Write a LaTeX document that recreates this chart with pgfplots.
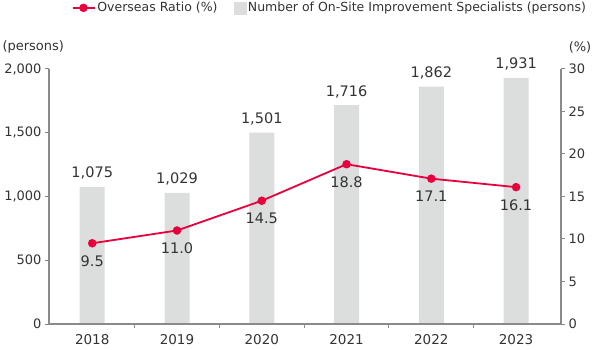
\documentclass[border=0pt]{standalone}
\usepackage{pgfplots}
\pgfplotsset{compat=1.18}
\usepackage{fontspec}
\setmainfont{DejaVu Sans}
\definecolor{barg}{HTML}{DCDDDD}
\definecolor{lred}{HTML}{E8003C}
\definecolor{axg}{HTML}{8A8A8A}
\definecolor{txt}{HTML}{333333}
\pgfplotsset{
  /pgf/number format/assume math mode=true,
  common/.style={
    at={(0,0)}, anchor=south west, scale only axis,
    width=512bp, height=255bp,
    xmin=-0.51, xmax=5.53, clip=false,
    axis line style={axg, line width=1.4bp},
    tick style={axg, line width=1bp},
    tick align=outside, major tick length=4bp,
    ticklabel style={text=txt, font=\fontsize{13bp}{15bp}\selectfont},
  },
}
\begin{document}
\begin{tikzpicture}[font=\fontsize{12bp}{14bp}\selectfont]
\useasboundingbox (-49bp,-26bp) rectangle (551bp,324bp);
\begin{axis}[common,
  ymin=0, ymax=2000,
  axis y line*=left, axis x line*=bottom,
  xtick={0.5,1.5,2.5,3.5,4.5},
  xticklabels={},
  ytick={0,500,1000,1500,2000},
  yticklabel style={/pgf/number format/1000 sep={,}},
]
\addplot[ybar, bar width=25bp, fill=barg, draw=none,
  nodes near coords,
  nodes near coords style={text=txt, /pgf/number format/1000 sep={,}, yshift=4bp,
    font=\fontsize{14.5bp}{16bp}\selectfont}]
  coordinates {(0,1075)(1,1029)(2,1501)(3,1716)(4,1862)(5,1931)};
\node[anchor=west, text=txt, font=\fontsize{13bp}{15bp}\selectfont] at ([xshift=-50bp,yshift=22bp]rel axis cs:0,1) {(persons)};
\end{axis}
\begin{axis}[common,
  ymin=0, ymax=30,
  axis y line*=right, axis x line*=bottom,
  xtick={0,1,2,3,4,5},
  xticklabels={2018,2019,2020,2021,2022,2023},
  x tick style={draw=none},
  xticklabel style={font=\fontsize{13.5bp}{15bp}\selectfont, yshift=-3bp},
  ytick={0,5,10,15,20,25,30},
  legend style={at={(1.053,1.27)}, anchor=north east, legend columns=2, draw=none, fill=none,
    text=txt, inner sep=0pt, font=\fontsize{12.5bp}{14bp}\selectfont,
    /tikz/every even column/.append style={column sep=14bp}},
  legend cell align=left,
]
\addplot[lred, line width=1.8bp, mark=*, mark size=3.3bp,
  mark options={fill=lred, draw=lred},
  point meta=explicit symbolic,
  nodes near coords,
  nodes near coords style={anchor=north, text=txt, yshift=-8bp,
    font=\fontsize{14.5bp}{16bp}\selectfont},
  legend image code/.code={\draw[lred, line width=1.8bp] (2bp,0bp) -- (24bp,0bp); \fill[lred] (13bp,0bp) circle (3.3bp);}]
  coordinates {(0,9.5)[9.5] (1,11.0)[11.0] (2,14.5)[14.5] (3,18.8)[18.8] (4,17.1)[17.1] (5,16.1)[16.1]};
\addlegendentry{Overseas Ratio (\%)}
\addlegendimage{legend image code/.code={\fill[barg] (6bp,-6bp) rectangle (18bp,6bp);}}
\addlegendentry{Number of On-Site Improvement Specialists (persons)}
\node[anchor=center, text=txt, font=\fontsize{13bp}{15bp}\selectfont] at ([xshift=19bp,yshift=22bp]rel axis cs:1,1) {(\%)};
\end{axis}
\end{tikzpicture}
\end{document}
